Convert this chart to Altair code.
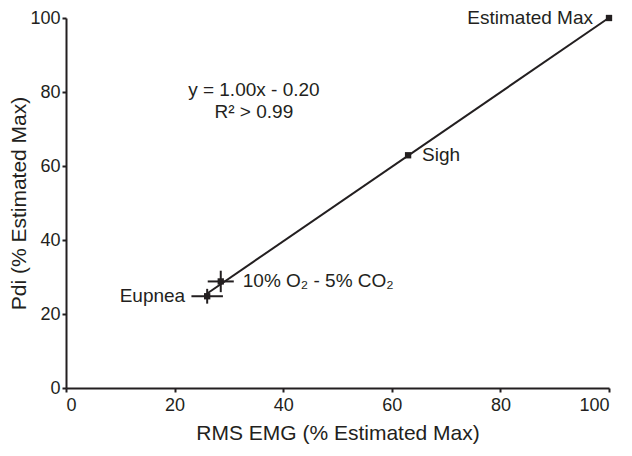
import altair as alt
import pandas as pd

# ---- data ----
conditions = ["Eupnea", "10% O\u2082 - 5% CO\u2082", "Sigh", "Estimated Max"]
emg = [26.0, 28.5, 63.0, 100.0]
pdi = [24.8, 28.8, 62.9, 100.0]
emg_err = [2.9, 2.4, 0.0, 0.0]
pdi_err = [2.0, 2.9, 0.0, 0.0]

eq_lines = ["y = 1.00x - 0.20", "R\u00b2 > 0.99"]
eq_x = [34.6, 34.6]
eq_y = [80.5, 74.5]

ticks = [0, 20, 40, 60, 80, 100]

df = pd.DataFrame({
    "cond": conditions,
    "emg": emg,
    "pdi": pdi,
    "emg_lo": [m - e for m, e in zip(emg, emg_err)],
    "emg_hi": [m + e for m, e in zip(emg, emg_err)],
    "pdi_lo": [m - e for m, e in zip(pdi, pdi_err)],
    "pdi_hi": [m + e for m, e in zip(pdi, pdi_err)],
})
eq_df = pd.DataFrame({"t": eq_lines, "x": eq_x, "y": eq_y})

FONT = "Liberation Sans"
INK = "#231f20"

xs = alt.Scale(domain=[0, 100], nice=False, zero=False)
ys = alt.Scale(domain=[0, 100], nice=False, zero=False)

x_axis = alt.Axis(title="RMS EMG (% Estimated Max)", values=ticks, grid=False,
                  tickSize=4, labelPadding=4, titlePadding=8)
y_axis = alt.Axis(title="Pdi (% Estimated Max)", values=ticks, grid=False,
                  tickSize=4, labelPadding=2, titlePadding=0)

base = alt.Chart(df)

fit = base.transform_regression("emg", "pdi").mark_line(
    color=INK, strokeWidth=2
).encode(
    x=alt.X("emg:Q", scale=xs, axis=x_axis),
    y=alt.Y("pdi:Q", scale=ys, axis=y_axis),
)

xerr = base.transform_filter("datum.emg_hi > datum.emg_lo").mark_rule(
    color=INK, strokeWidth=2
).encode(x="emg_lo:Q", x2="emg_hi:Q", y="pdi:Q")

yerr = base.transform_filter("datum.pdi_hi > datum.pdi_lo").mark_rule(
    color=INK, strokeWidth=2
).encode(x="emg:Q", y="pdi_lo:Q", y2="pdi_hi:Q")

pts = base.mark_square(color=INK, opacity=1, size=40).encode(x="emg:Q", y="pdi:Q")

label_style = {
    "Eupnea": ("right", -22),
    conditions[1]: ("left", 22),
    "Sigh": ("left", 14),
    "Estimated Max": ("right", -16),
}
label_layers = []
for name, (al, dx) in label_style.items():
    label_layers.append(
        base.transform_filter(alt.datum.cond == name).mark_text(
            align=al, baseline="middle", dx=dx, font=FONT, fontSize=19, color=INK
        ).encode(x="emg:Q", y="pdi:Q", text="cond:N")
    )

eq = alt.Chart(eq_df).mark_text(
    align="center", baseline="middle", font=FONT, fontSize=19, color=INK
).encode(x="x:Q", y="y:Q", text="t:N")

chart = alt.layer(fit, xerr, yerr, pts, *label_layers, eq).properties(
    width=543, height=370,
    autosize=alt.AutoSizeParams(type="none"),
    padding={"left": 58, "top": 10, "right": 15, "bottom": 58},
    background="white",
).configure_view(stroke=None).configure_axis(
    domainColor=INK, domainWidth=2, tickColor=INK, tickWidth=2,
    labelFont=FONT, labelFontSize=18, labelColor=INK,
    titleFont=FONT, titleFontSize=21, titleColor=INK, titleFontWeight="normal",
)

chart.save("out.html", embed_options={"renderer": "svg", "actions": False})
